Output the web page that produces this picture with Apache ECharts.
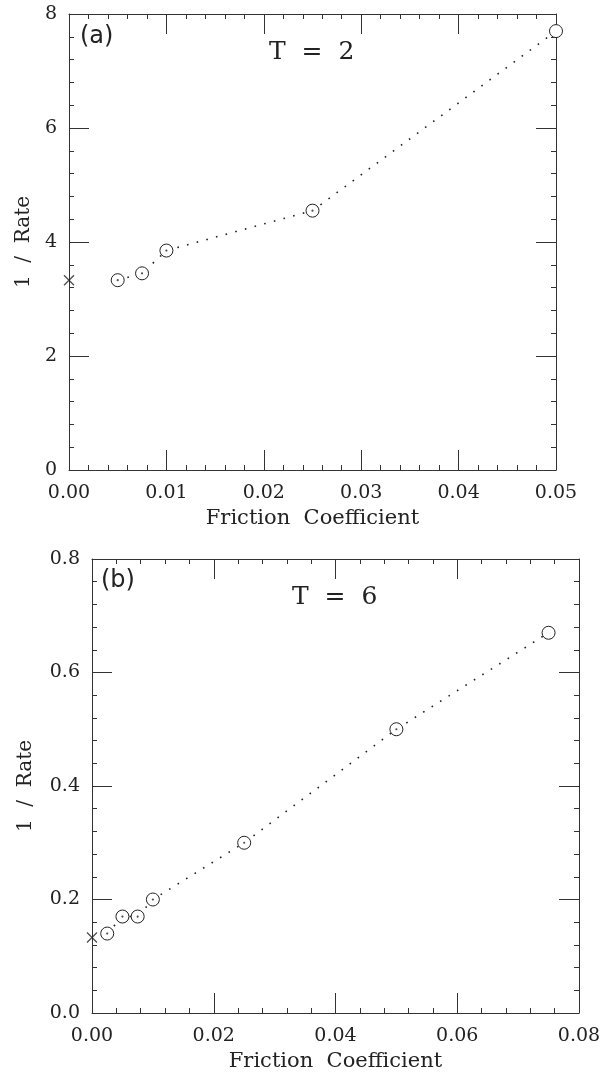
<!DOCTYPE html>
<html>
<head>
<meta charset="utf-8">
<title>1 / Rate vs Friction Coefficient</title>
<script src="https://cdn.jsdelivr.net/npm/echarts@6/dist/echarts.min.js"></script>
<style>
  html, body { margin: 0; padding: 0; background: #fff; }
  #chart { width: 614px; height: 1074px; }
</style>
</head>
<body>
<div id="chart"></div>
<script>
// Panel (a): T = 2
const frictionA = [0.005, 0.0075, 0.01, 0.025, 0.05];
const inverseRateA = [3.33, 3.45, 3.85, 4.55, 7.7];
const limitA = [0, 3.33];          // zero-friction limit (cross)

// Panel (b): T = 6
const frictionB = [0.0025, 0.005, 0.0075, 0.01, 0.025, 0.05, 0.075];
const inverseRateB = [0.14, 0.17, 0.17, 0.2, 0.3, 0.5, 0.67];
const limitB = [0, 0.133];

// Axis ranges and tick steps
const xTicksA = [0, 0.01, 0.02, 0.03, 0.04, 0.05];
const yTicksA = [0, 2, 4, 6, 8];
const xTicksB = [0, 0.02, 0.04, 0.06, 0.08];
const yTicksB = [0, 0.2, 0.4, 0.6, 0.8];

const INK = '#222';
const AXIS = '#333';
const SERIF = '"DejaVu Serif", "Liberation Serif", serif';
const SANS = '"DejaVu Sans", sans-serif';

const chart = echarts.init(document.getElementById('chart'), null, { renderer: 'canvas' });

const grids = [
  { left: 69, top: 14, width: 487, height: 456 },
  { left: 92, top: 559, width: 487, height: 454 }
];

function axisCommon(ticks, digits, showLabel, gridIndex, position) {
  return {
    type: 'value',
    gridIndex: gridIndex,
    position: position,
    min: ticks[0],
    max: ticks[ticks.length - 1],
    interval: ticks[1] - ticks[0],
    axisLine: { show: true, onZero: false, lineStyle: { color: AXIS, width: 1 } },
    axisTick: { show: true, inside: true, length: 20, lineStyle: { color: AXIS, width: 1 } },
    minorTick: { show: true, splitNumber: 5, length: 5, lineStyle: { color: AXIS, width: 1 } },
    splitLine: { show: false },
    minorSplitLine: { show: false },
    axisLabel: {
      show: showLabel,
      margin: 12,
      color: INK,
      fontFamily: SERIF,
      fontSize: 19,
      formatter: v => v.toFixed(digits)
    }
  };
}

const xAxes = [];
const yAxes = [];
[[xTicksA, yTicksA, 0], [xTicksB, yTicksB, 1]].forEach(([xt, yt, gi]) => {
  const yd = gi === 0 ? 0 : 1;
  const xb = axisCommon(xt, 2, true, gi, 'bottom');
  xb.name = 'Friction  Coefficient';
  xb.nameLocation = 'middle';
  xb.nameGap = 38;
  xb.nameTextStyle = { color: INK, fontFamily: SERIF, fontSize: 21 };
  xb.axisLabel.margin = 14;
  xAxes.push(xb);
  xAxes.push(axisCommon(xt, 2, false, gi, 'top'));
  const yl = axisCommon(yt, yd, true, gi, 'left');
  yl.name = '1  /  Rate';
  yl.nameLocation = 'middle';
  yl.nameGap = gi === 0 ? 33 : 56;
  yl.nameTextStyle = { color: INK, fontFamily: SERIF, fontSize: 20 };
  yAxes.push(yl);
  yAxes.push(axisCommon(yt, yd, false, gi, 'right'));
});

const CROSS = 'path://M0,0L10,10M10,0L0,10';

function panelSeries(gi, xs, ys, limit) {
  const pts = xs.map((x, i) => [x, ys[i]]);
  return [
    {
      type: 'line',
      xAxisIndex: gi * 2,
      yAxisIndex: gi * 2,
      data: pts,
      smooth: false,
      clip: false,
      symbol: 'circle',
      symbolSize: 13,
      showSymbol: true,
      showAllSymbol: true,
      lineStyle: { color: INK, width: 1.6, type: [1.6, 8.4] },
      itemStyle: { color: '#fff', borderColor: INK, borderWidth: 1 },
      z: 3
    },
    {
      // centre marks of the measured points
      type: 'scatter',
      xAxisIndex: gi * 2,
      yAxisIndex: gi * 2,
      data: pts.slice(0, -1),
      symbol: 'circle',
      symbolSize: 2.2,
      itemStyle: { color: INK },
      z: 4
    },
    {
      type: 'scatter',
      xAxisIndex: gi * 2,
      yAxisIndex: gi * 2,
      data: [limit],
      clip: false,
      symbol: CROSS,
      symbolSize: 10,
      itemStyle: { color: 'none', borderColor: INK, borderWidth: 1.3 },
      z: 4
    }
  ];
}

const series = [].concat(
  panelSeries(0, frictionA, inverseRateA, limitA),
  panelSeries(1, frictionB, inverseRateB, limitB)
);

const titles = [
  { text: '(a)', left: 80, top: 24,
    textStyle: { color: INK, fontFamily: SANS, fontSize: 24, fontWeight: 'normal', lineHeight: 26 } },
  { text: 'T  =  2', left: 269, top: 38,
    textStyle: { color: INK, fontFamily: SERIF, fontSize: 25, fontWeight: 'normal', lineHeight: 28 } },
  { text: '(b)', left: 101, top: 568,
    textStyle: { color: INK, fontFamily: SANS, fontSize: 24, fontWeight: 'normal', lineHeight: 26 } },
  { text: 'T  =  6', left: 292, top: 583,
    textStyle: { color: INK, fontFamily: SERIF, fontSize: 25, fontWeight: 'normal', lineHeight: 28 } }
];
titles.forEach(t => { t.padding = 0; });

chart.setOption({
  backgroundColor: '#fff',
  animation: false,
  title: titles,
  grid: grids,
  xAxis: xAxes,
  yAxis: yAxes,
  series: series
});
</script>
</body>
</html>
